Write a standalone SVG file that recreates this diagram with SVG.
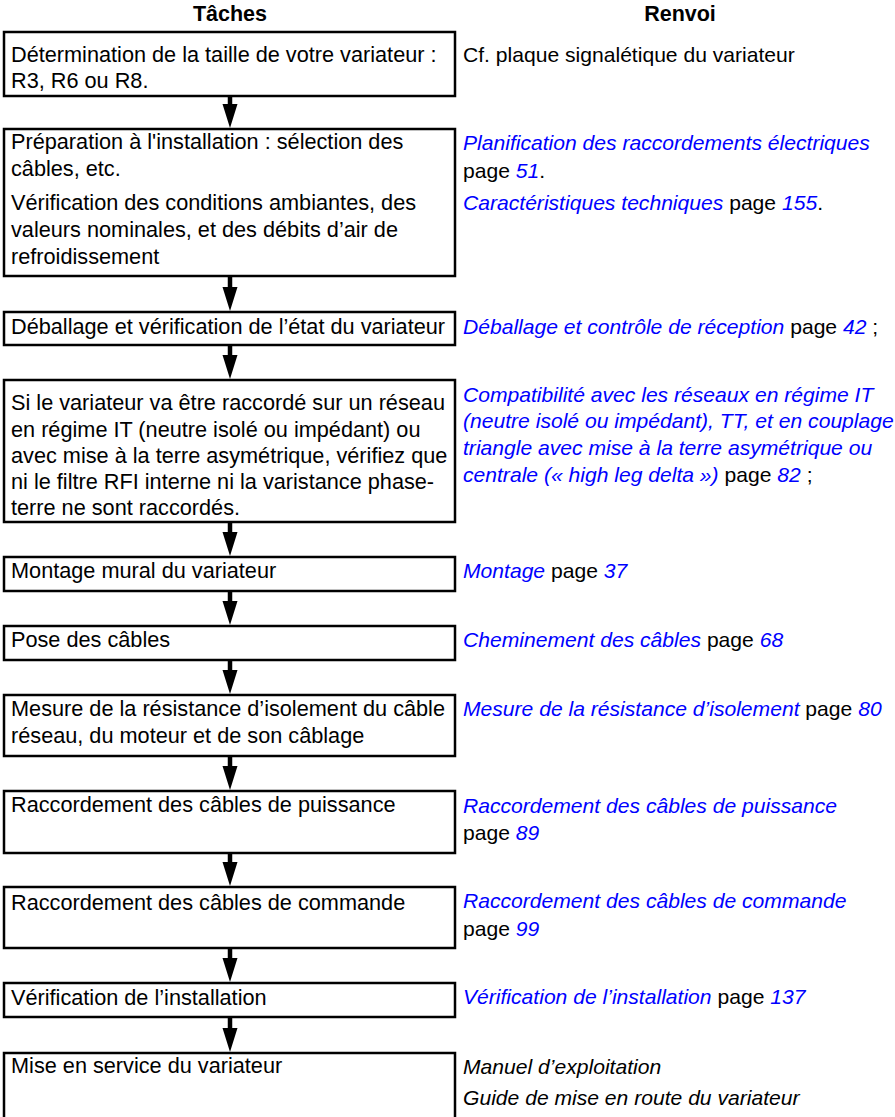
<svg xmlns="http://www.w3.org/2000/svg" width="895" height="1117" viewBox="0 0 895 1117">
<style>
text{font-family:"Liberation Sans",Arial,sans-serif;font-size:21.7px;fill:#000}
.r{font-size:21.1px}
.h{font-weight:bold;text-anchor:middle;font-size:21.5px}
.b{fill:#fff;stroke:#000;stroke-width:2.5}
.l{fill:#0000ff;font-style:italic}
.i{font-style:italic}
.s{stroke:#000;stroke-width:4.5}
.a{fill:#000}
</style>
<defs>
<polygon id="ah" points="-7.5,-24 7.5,-24 0,0" class="a"/>
</defs>
<text class="h" x="230" y="21">Tâches</text>
<text class="h" x="680" y="21">Renvoi</text>

<g id="connectors">
<line class="s" x1="230" y1="96" x2="230" y2="106"/><use href="#ah" x="230" y="128"/>
<line class="s" x1="230" y1="276" x2="230" y2="290"/><use href="#ah" x="230" y="311"/>
<line class="s" x1="230" y1="345" x2="230" y2="358"/><use href="#ah" x="230" y="379"/>
<line class="s" x1="230" y1="522" x2="230" y2="535"/><use href="#ah" x="230" y="556"/>
<line class="s" x1="230" y1="591" x2="230" y2="604"/><use href="#ah" x="230" y="625"/>
<line class="s" x1="230" y1="660" x2="230" y2="673"/><use href="#ah" x="230" y="694"/>
<line class="s" x1="230" y1="756" x2="230" y2="769"/><use href="#ah" x="230" y="790"/>
<line class="s" x1="230" y1="853" x2="230" y2="865"/><use href="#ah" x="230" y="886"/>
<line class="s" x1="230" y1="948" x2="230" y2="961"/><use href="#ah" x="230" y="982"/>
<line class="s" x1="230" y1="1017" x2="230" y2="1031"/><use href="#ah" x="230" y="1052"/>
</g>

<g id="n1">
<rect class="b" x="4" y="32" width="451" height="64"/>
<text x="11" y="62">Détermination de la taille de votre variateur :</text>
<text x="11" y="88">R3, R6 ou R8.</text>
<text class="r" x="463" y="62">Cf. plaque signalétique du variateur</text>
</g>

<g id="n2">
<rect class="b" x="4" y="129" width="451" height="147"/>
<text x="11" y="149">Préparation à l'installation : sélection des</text>
<text x="11" y="176">câbles, etc.</text>
<text x="11" y="210">Vérification des conditions ambiantes, des</text>
<text x="11" y="237">valeurs nominales, et des débits d’air de</text>
<text x="11" y="264">refroidissement</text>
<text x="463" y="150" class="r l">Planification des raccordements électriques</text>
<text class="r" x="463" y="178">page <tspan class="l">51</tspan>.</text>
<text class="r" x="463" y="210"><tspan class="l">Caractéristiques techniques</tspan> page <tspan class="l">155</tspan>.</text>
</g>

<g id="n3">
<rect class="b" x="4" y="312" width="451" height="33"/>
<text x="11" y="334">Déballage et vérification de l’état du variateur</text>
<text class="r" x="463" y="334"><tspan class="l">Déballage et contrôle de réception</tspan> page <tspan class="l">42</tspan> ;</text>
</g>

<g id="n4">
<rect class="b" x="4" y="380" width="451" height="142"/>
<text x="11" y="410">Si le variateur va être raccordé sur un réseau</text>
<text x="11" y="437">en régime IT (neutre isolé ou impédant) ou</text>
<text x="11" y="463">avec mise à la terre asymétrique, vérifiez que</text>
<text x="11" y="489">ni le filtre RFI interne ni la varistance phase-</text>
<text x="11" y="515">terre ne sont raccordés.</text>
<text x="463" y="402" class="r l">Compatibilité avec les réseaux en régime IT</text>
<text x="463" y="428" class="r l">(neutre isolé ou impédant), TT, et en couplage</text>
<text x="463" y="455" class="r l">triangle avec mise à la terre asymétrique ou</text>
<text class="r" x="463" y="482"><tspan class="l">centrale (« high leg delta »)</tspan> page <tspan class="l">82</tspan> ;</text>
</g>

<g id="n5">
<rect class="b" x="4" y="557" width="451" height="34"/>
<text x="11" y="578">Montage mural du variateur</text>
<text class="r" x="463" y="578"><tspan class="l">Montage</tspan> page <tspan class="l">37</tspan></text>
</g>

<g id="n6">
<rect class="b" x="4" y="626" width="451" height="34"/>
<text x="11" y="647">Pose des câbles</text>
<text class="r" x="463" y="647"><tspan class="l">Cheminement des câbles</tspan> page <tspan class="l">68</tspan></text>
</g>

<g id="n7">
<rect class="b" x="4" y="695" width="451" height="61"/>
<text x="11" y="716">Mesure de la résistance d’isolement du câble</text>
<text x="11" y="743">réseau, du moteur et de son câblage</text>
<text class="r" x="463" y="716"><tspan class="l">Mesure de la résistance d’isolement</tspan> page <tspan class="l">80</tspan></text>
</g>

<g id="n8">
<rect class="b" x="4" y="791" width="451" height="62"/>
<text x="11" y="812">Raccordement des câbles de puissance</text>
<text x="463" y="813" class="r l">Raccordement des câbles de puissance</text>
<text class="r" x="463" y="840">page <tspan class="l">89</tspan></text>
</g>

<g id="n9">
<rect class="b" x="4" y="887" width="451" height="61"/>
<text x="11" y="910">Raccordement des câbles de commande</text>
<text x="463" y="908" class="r l">Raccordement des câbles de commande</text>
<text class="r" x="463" y="936">page <tspan class="l">99</tspan></text>
</g>

<g id="n10">
<rect class="b" x="4" y="983" width="451" height="34"/>
<text x="11" y="1005">Vérification de l’installation</text>
<text class="r" x="463" y="1004"><tspan class="l">Vérification de l’installation</tspan> page <tspan class="l">137</tspan></text>
</g>

<g id="n11">
<rect class="b" x="4" y="1053" width="451" height="80"/>
<text x="11" y="1073">Mise en service du variateur</text>
<text x="463" y="1074" class="r i">Manuel d’exploitation</text>
<text x="463" y="1105" class="r i">Guide de mise en route du variateur</text>
</g>
</svg>
